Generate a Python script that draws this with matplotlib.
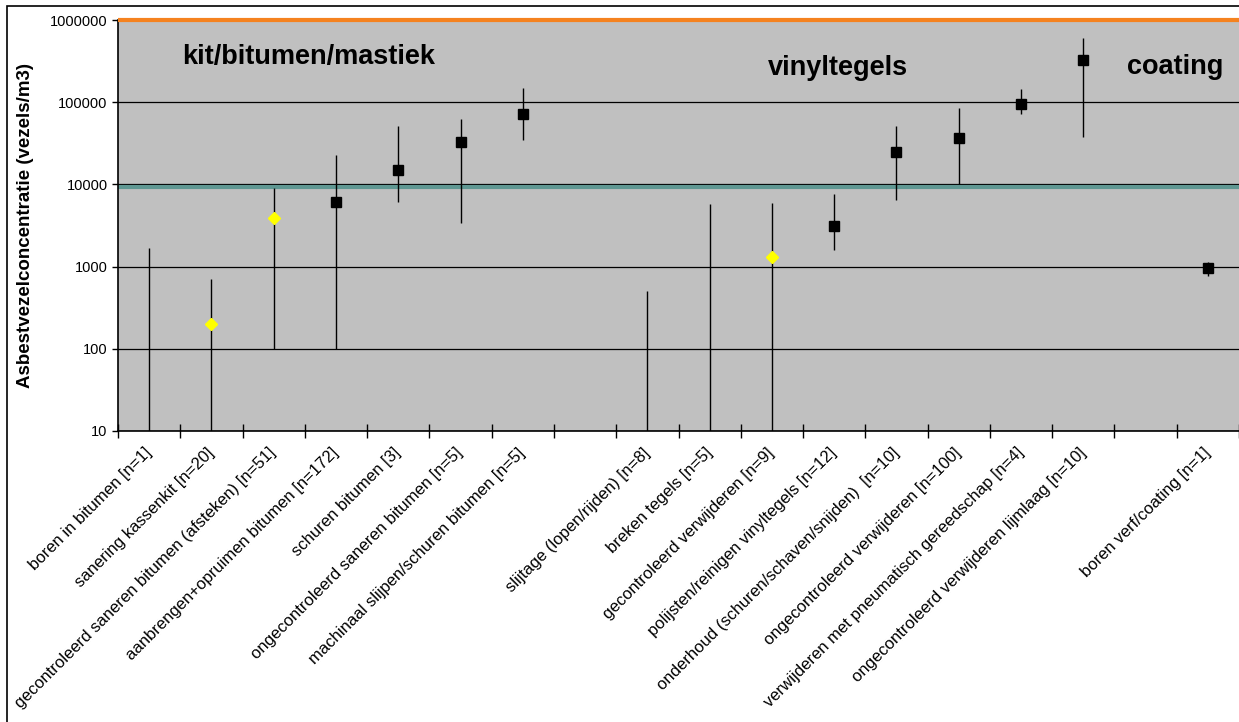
# Asbest fibre concentrations per activity, log scale with ranges
import numpy as np
import matplotlib.pyplot as plt
from matplotlib.patches import Rectangle

plt.rcParams['font.family'] = ['Liberation Sans', 'DejaVu Sans']

categories = [
    'boren in bitumen [n=1]',
    'sanering kassenkit [n=20]',
    'gecontroleerd saneren bitumen (afsteken) [n=51]',
    'aanbrengen+opruimen bitumen [n=172]',
    'schuren bitumen [3]',
    'ongecontroleerd saneren bitumen [n=5]',
    'machinaal slijpen/schuren bitumen [n=5]',
    '',
    'slijtage (lopen/rijden) [n=8]',
    'breken tegels [n=5]',
    'gecontroleerd verwijderen [n=9]',
    'polijsten/reinigen vinyltegels [n=12]',
    'onderhoud (schuren/schaven/snijden)  [n=10]',
    'ongecontroleerd verwijderen [n=100]',
    'verwijderen met pneumatisch gereedschap [n=4]',
    'ongecontroleerd verwijderen lijmlaag [n=10]',
    '',
    'boren verf/coating [n=1]',
]

nan = np.nan
# central value (nan = not shown), lower and upper end of range (1 = below axis)
mid = [nan, 200, 3900, 6100, 15000, 33000, 72000, nan, nan, nan, 1300, 3100,
       25000, 37000, 94000, 330000, nan, 960]
low = [1, 1, 100, 100, 6100, 3400, 35000, nan, 1, 1, 1, 1580,
       6400, 10000, 72000, 37600, nan, 760]
high = [1700, 700, 9000, 23000, 52000, 63000, 147000, nan, 500, 5800, 6000, 7700,
        51000, 86000, 143000, 605000, nan, 1140]
yellow = [1, 2, 10]   # points drawn as yellow diamonds

limit_top = 1000000
limit_mid = 9300

groups = ['kit/bitumen/mastiek', 'vinyltegels', 'coating']
group_x = [0.53, 9.93, 15.7]
group_y = [355000, 262000, 270000]

yticks = [10, 100, 1000, 10000, 100000, 1000000]

fig = plt.figure(figsize=(12.39, 7.22), dpi=100)
ax = fig.add_axes([118/1239, 1 - 431/722, 1121/1239, 411/722])
ax.set_facecolor('#C0C0C0')
ax.set_yscale('log')
ax.set_xlim(-0.5, 17.5)
ax.set_ylim(10, 1000000)

x = np.arange(len(categories))
for i in x:
    if not np.isnan(high[i]):
        ax.vlines(i, low[i], high[i], color='black', lw=1, zorder=3)

for i in x:
    if np.isnan(mid[i]):
        continue
    if i in yellow:
        ax.plot(i, mid[i], marker='D', ms=6, color='#FFFF00', mec='#FFFF00', zorder=4)
    else:
        ax.plot(i, mid[i], marker='s', ms=6.5, color='black', zorder=4)

ax.axhline(limit_top, color='#F5821F', lw=3, zorder=5, clip_on=False,
           solid_capstyle='butt')
ax.axhline(limit_mid, color='#5F9792', lw=3, zorder=2)

for g, gx, gy in zip(groups, group_x, group_y):
    ax.text(gx, gy, g, fontsize=19.5, fontweight='bold', ha='left', va='center')

ax.yaxis.grid(True, which='major', color='black', lw=0.9)
ax.set_axisbelow(True)
ax.set_yticks(yticks)
ax.set_yticklabels([str(v) for v in yticks], fontsize=10.5)
ax.yaxis.set_minor_locator(plt.NullLocator())
ax.tick_params(axis='y', direction='out', length=4, width=1)

ax.set_xticks(np.arange(-0.5, 18, 1))
ax.set_xticklabels([])
ax.set_xticks(x, categories, minor=True)
ax.tick_params(axis='x', which='major', direction='inout', length=10, width=1)
ax.tick_params(axis='x', which='minor', length=0, pad=14)
for lab in ax.get_xticklabels(minor=True):
    lab.set_rotation(45)
    lab.set_ha('right')
    lab.set_va('center')
    lab.set_rotation_mode('anchor')
    lab.set_fontsize(12)

for s in ['top', 'right']:
    ax.spines[s].set_visible(False)
for s in ['left', 'bottom']:
    ax.spines[s].set_color('black')
    ax.spines[s].set_linewidth(1.2)

ax.set_ylabel('Asbestvezelconcentratie (vezels/m3)', fontsize=13.5, fontweight='bold')
ax.yaxis.set_label_coords(-0.075, 0.5)

fig.patches.append(Rectangle((7/1239, -0.1), 2, 1.1 - 6/722, transform=fig.transFigure,
                             fill=False, ec='black', lw=1.2))

fig.savefig('out.png', dpi=100, facecolor='white')
